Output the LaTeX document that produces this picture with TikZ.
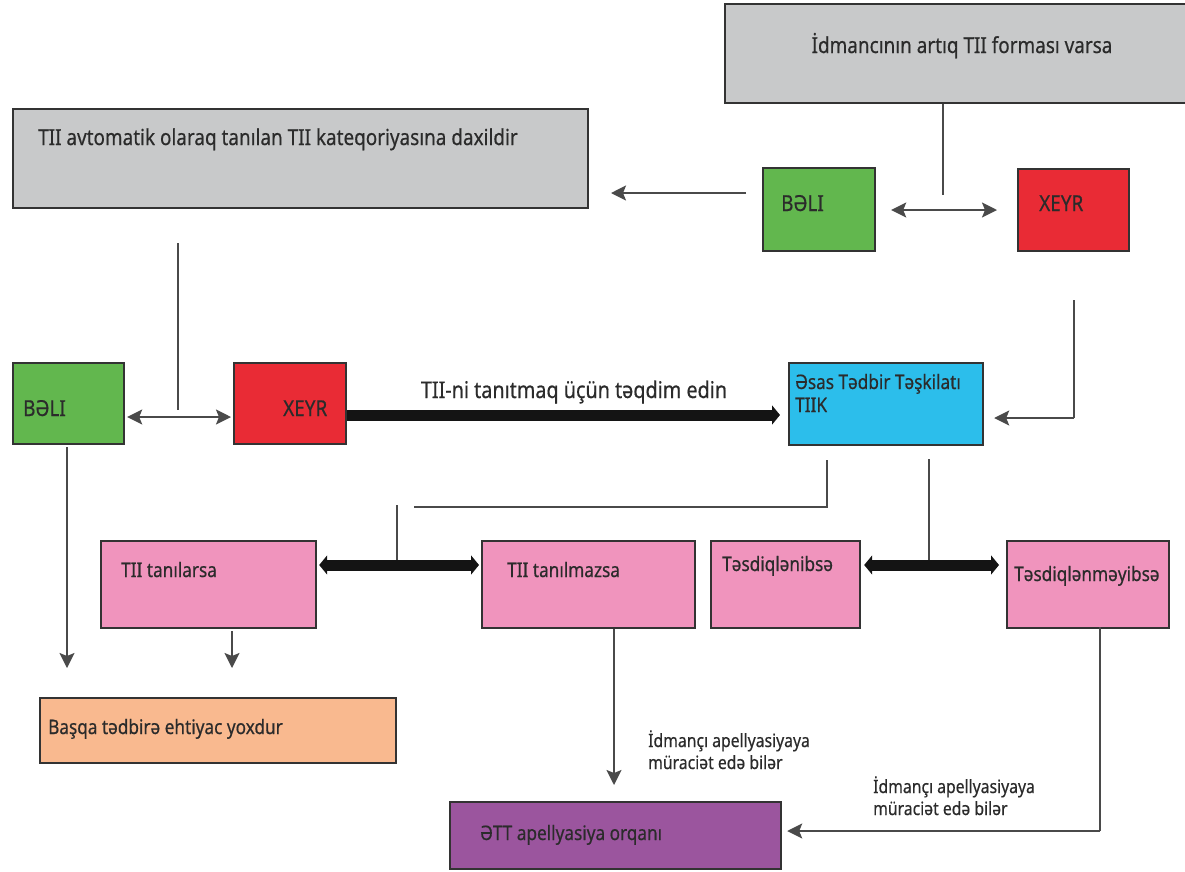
\documentclass[tikz,border=0pt]{standalone}
\usepackage{fontspec}
\setmainfont[FakeStretch=0.86,FakeBold=0.5]{Noto Sans}
\usetikzlibrary{arrows.meta}
\definecolor{boxline}{HTML}{333333}
\definecolor{linegray}{HTML}{4A4A4A}
\definecolor{txt}{HTML}{2B2B2B}
\definecolor{cgray}{HTML}{C8C9CA}
\definecolor{cgreen}{HTML}{62B74E}
\definecolor{cred}{HTML}{E92B35}
\definecolor{cblue}{HTML}{2CBEEB}
\definecolor{cpink}{HTML}{F094BD}
\definecolor{corange}{HTML}{F9B98F}
\definecolor{cpurple}{HTML}{9B559E}
\begin{document}
\begin{tikzpicture}[x=1pt,y=-1pt,
  box/.style={draw=boxline, line width=2.2pt, inner sep=0pt, anchor=north west},
  lbl/.style={inner sep=0pt, anchor=base west, text=txt, font=\fontsize{22}{25}\selectfont},
  boxtxt/.style={lbl, font=\fontsize{20}{24}\selectfont},
  small/.style={lbl, align=left, font=\fontsize{18.3}{22}\selectfont},
  thinline/.style={draw=linegray, line width=1.9pt},
  arr/.style={thinline, -{Stealth[length=15pt,width=15pt,inset=3pt]}},
  dbl/.style={thinline, {Stealth[length=15pt,width=15pt,inset=3pt]}-{Stealth[length=15pt,width=15pt,inset=3pt]}},
  thickarr/.style={draw=black!92, line width=11pt, -{Triangle[length=8pt,width=19pt]}},
  thickdbl/.style={draw=black!92, line width=11pt, {Triangle[length=8pt,width=19pt]}-{Triangle[length=8pt,width=19pt]}}
]
\useasboundingbox (0,0) rectangle (1185,871);

% boxes
\node[box, fill=cgray, minimum width=480pt, minimum height=99pt] (top) at (724,3) {};
\node[box, fill=cgray, minimum width=575pt, minimum height=99pt] (auto) at (12,108) {};
\node[box, fill=cgreen, minimum width=112pt, minimum height=83pt] (yes1) at (762,167) {};
\node[box, fill=cred, minimum width=111pt, minimum height=82pt] (no1) at (1017,168) {};
\node[box, fill=cgreen, minimum width=111pt, minimum height=81pt] (yes2) at (12,362) {};
\node[box, fill=cred, minimum width=112pt, minimum height=81pt] (no2) at (233,362) {};
\node[box, fill=cblue, minimum width=194pt, minimum height=82pt] (org) at (788,362) {};
\node[box, fill=cpink, minimum width=215pt, minimum height=87pt] (rec) at (100,540) {};
\node[box, fill=cpink, minimum width=213pt, minimum height=87pt] (nrec) at (481,540) {};
\node[box, fill=cpink, minimum width=149pt, minimum height=87pt] (conf) at (710,540) {};
\node[box, fill=cpink, minimum width=162pt, minimum height=87pt] (nconf) at (1006,540) {};
\node[box, fill=corange, minimum width=356pt, minimum height=65pt] (none) at (39,697) {};
\node[box, fill=cpurple, minimum width=331pt, minimum height=67pt] (appeal) at (449,801) {};

% texts
\node[lbl, anchor=base] (ttop) at (962,53) {İdmancının artıq TII forması varsa};
\node[lbl] (tauto) at (38,145) {TII avtomatik olaraq tanılan TII kateqoriyasına daxildir};
\node[lbl] (tyes1) at (781,211) {BƏLI};
\node[lbl] (tno1) at (1039,211) {XEYR};
\node[lbl] (tyes2) at (23,416) {BƏLI};
\node[lbl] (tno2) at (283,416) {XEYR};
\node[lbl, align=left, font=\fontsize{20}{23}\selectfont] (torg) at (795,412) {Əsas Tədbir Təşkilatı\\TIIK};
\node[lbl, anchor=base, font=\fontsize{23}{26}\selectfont] (tsub) at (574,398) {TII-ni tanıtmaq üçün təqdim edin};
\node[boxtxt] (trec) at (121,577) {TII tanılarsa};
\node[boxtxt] (tnrec) at (507,577) {TII tanılmazsa};
\node[boxtxt] (tconf) at (722,571) {Təsdiqlənibsə};
\node[boxtxt] (tnconf) at (1014,581) {Təsdiqlənməyibsə};
\node[boxtxt] (tnone) at (48,734) {Başqa tədbirə ehtiyac yoxdur};
\node[boxtxt] (tappeal) at (480,840) {ƏTT apellyasiya orqanı};
\node[small] (lab1) at (648,769) {İdmançı apellyasiyaya\\müraciət edə bilər};
\node[small] (lab2) at (873,815) {İdmançı apellyasiyaya\\müraciət edə bilər};

% helper coordinates
\coordinate (c1) at (943,195);
\coordinate (c2) at (746,193);
\coordinate (c3) at (611,193);
\coordinate (c4) at (178,243);
\coordinate (c5) at (178,410);
\coordinate (yA) at (0,210);
\coordinate (yB) at (0,417);
\coordinate (yC) at (0,415);
\coordinate (r1) at (1074,300);
\coordinate (r2) at (1074,418);
\coordinate (b1) at (827,460);
\coordinate (b2) at (827,507);
\coordinate (b3) at (414,507);
\coordinate (b4) at (397,505);
\coordinate (b5) at (397,560);
\coordinate (d1) at (929,459);
\coordinate (d2) at (929,560);
\coordinate (yD) at (0,565);
\coordinate (e1) at (67,447);
\coordinate (e2) at (67,668);
\coordinate (f1) at (232,631);
\coordinate (f2) at (232,668);
\coordinate (g1) at (614,629);
\coordinate (g2) at (614,785);
\coordinate (h1) at (1100,627);
\coordinate (h2) at (1100,831);

% connectors
\draw[thinline] (top.south -| c1) -- (c1);
\draw[dbl] ([xshift=15pt]yes1.east |- yA) -- ([xshift=-20pt]no1.west |- yA);
\draw[arr] (c2) -- (c3);
\draw[thinline] (c4) -- (c5);
\draw[dbl] ([xshift=2pt]yes2.east |- yB) -- ([xshift=-2pt]no2.west |- yB);
\draw[thickarr] (no2.east |- yC) -- ([xshift=-8pt]org.west |- yC);
\draw[thinline] (r1) -- (r2);
\draw[arr] (r2) -- ([xshift=10pt]org.east |- r2);
\draw[thinline] (b1) -- (b2) -- (b3);
\draw[thinline] (b4) -- (b5);
\draw[thinline] (d1) -- (d2);
\draw[thickdbl] ([xshift=2pt]rec.east |- yD) -- ([xshift=-2pt]nrec.west |- yD);
\draw[thickdbl] ([xshift=3pt]conf.east |- yD) -- ([xshift=-7pt]nconf.west |- yD);
\draw[arr] (e1) -- (e2);
\draw[arr] (f1) -- (f2);
\draw[arr] (g1) -- (g2);
\draw[thinline] (h1) -- (h2);
\draw[arr] (h2) -- ([xshift=5pt]appeal.east |- h2);
\end{tikzpicture}
\end{document}
